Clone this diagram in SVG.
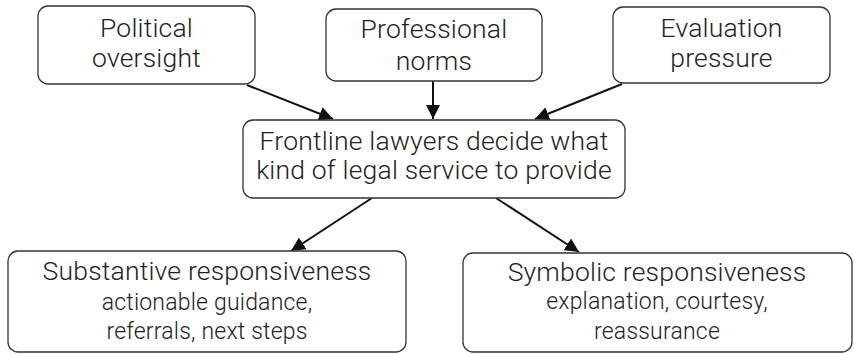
<svg xmlns="http://www.w3.org/2000/svg" width="854" height="354" viewBox="0 0 854 354">
<defs>
<style>
.box{fill:#fff;stroke:#333;stroke-width:1.3}
.t{font-family:Roboto,"Liberation Sans",sans-serif;font-weight:300;fill:#222;text-anchor:middle}
.big{font-size:26.5px;letter-spacing:0.2px}
.small{font-size:23px;letter-spacing:0.2px}
.edge{stroke:#111;stroke-width:2;fill:none;marker-end:url(#arr)}
</style>
<marker id="arr" viewBox="0 0 10 10" refX="10" refY="5" markerWidth="14" markerHeight="14" markerUnits="userSpaceOnUse" orient="auto">
<path d="M0,0 L10,5 L0,10 z" fill="#111"/>
</marker>
</defs>
<rect width="854" height="354" fill="#fff"/>
<g id="connectors">
<line class="edge" x1="247" y1="85" x2="333" y2="119"/>
<line class="edge" x1="433" y1="81" x2="433" y2="119"/>
<line class="edge" x1="622" y1="84" x2="535" y2="119"/>
<line class="edge" x1="372" y1="198" x2="291" y2="251"/>
<line class="edge" x1="496" y1="198" x2="579" y2="252"/>
</g>
<g id="political">
<rect class="box" x="38" y="6" width="217" height="78" rx="10"/>
<text class="t big" x="146.5" y="37">Political</text>
<text class="t big" x="146.5" y="67">oversight</text>
</g>
<g id="professional">
<rect class="box" x="326" y="9" width="216" height="72" rx="10"/>
<text class="t big" x="434" y="38">Professional</text>
<text class="t big" x="434" y="70">norms</text>
</g>
<g id="evaluation">
<rect class="box" x="613" y="7" width="217" height="76" rx="10"/>
<text class="t big" x="721.5" y="37">Evaluation</text>
<text class="t big" x="721.5" y="67">pressure</text>
</g>
<g id="frontline">
<rect class="box" x="243" y="120" width="382" height="78" rx="10"/>
<text class="t big" x="434" y="150">Frontline lawyers decide what</text>
<text class="t big" x="434" y="179">kind of legal service to provide</text>
</g>
<g id="substantive">
<rect class="box" x="8" y="251" width="398" height="101" rx="10"/>
<text class="t big" x="207" y="280">Substantive responsiveness</text>
<text class="t small" x="207" y="310">actionable guidance,</text>
<text class="t small" x="207" y="339">referrals, next steps</text>
</g>
<g id="symbolic">
<rect class="box" x="463" y="253" width="389" height="99" rx="10"/>
<text class="t big" x="657" y="281">Symbolic responsiveness</text>
<text class="t small" x="657" y="309">explanation, courtesy,</text>
<text class="t small" x="657" y="339">reassurance</text>
</g>
</svg>
